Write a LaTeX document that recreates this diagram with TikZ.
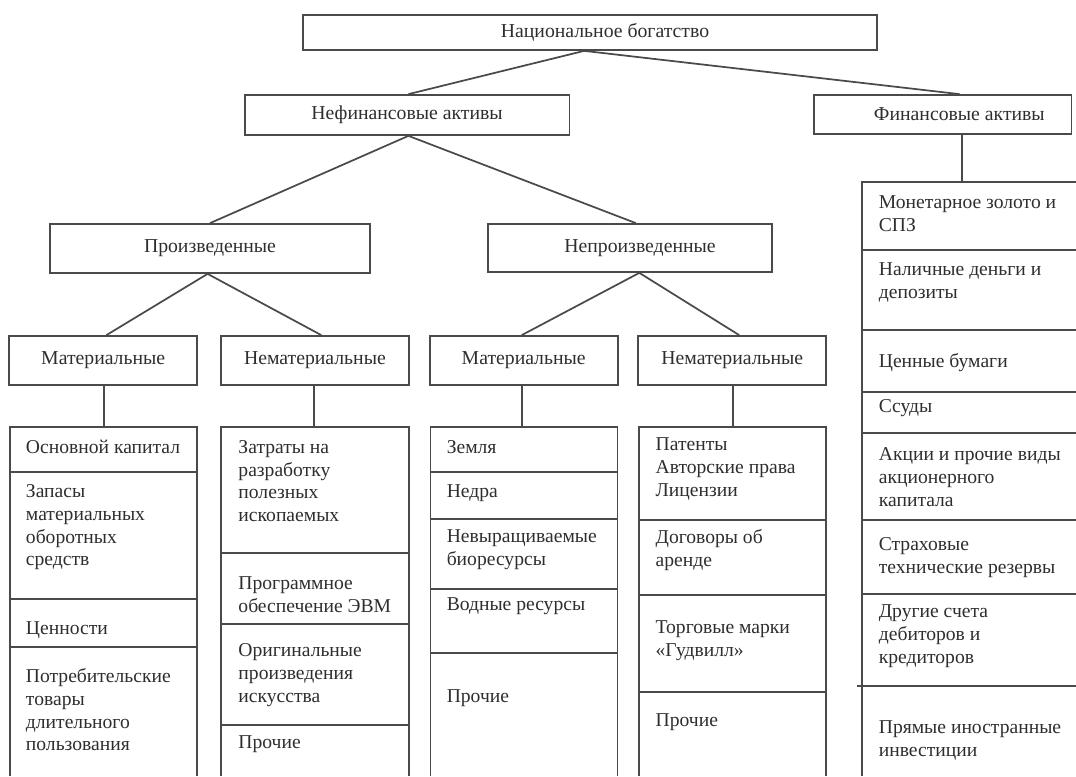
\documentclass[tikz,border=0pt]{standalone}
\usepackage{fontspec}
\setmainfont{Liberation Serif}
\definecolor{ln}{HTML}{4A4A4A}
\definecolor{txt}{HTML}{2E2E2E}

\tikzset{every picture/.style={line width=1.3pt}}
\tikzset{
  box/.style={draw=ln, rectangle, inner sep=0pt, text=txt, font=\fontsize{14.8}{17}\selectfont},
  cell/.style={anchor=west, align=left, inner sep=0pt, text=txt, font=\fontsize{14.7}{17}\selectfont},
}

\begin{document}
\begin{tikzpicture}[x=0.75pt,y=0.75pt,yscale=-1,xscale=1]
\useasboundingbox (0,0) rectangle (1076,776);

% levels
\node [box, minimum width=430.7pt, minimum height=26.25pt] (nat) at (589.8,32.5) {\hspace*{22.8pt}Национальное богатство};
\node [box, minimum width=243.5pt, minimum height=30pt] (nefin) at (407.1,115) {Нефинансовые активы};
\node [box, minimum width=193.2pt, minimum height=29.25pt] (fin) at (942.7,114.5) {\hspace*{25pt}Финансовые активы};
\node [box, minimum width=240.2pt, minimum height=36.75pt] (proizv) at (210,248.5) {Произведенные};
\node [box, minimum width=212.9pt, minimum height=36pt] (neproizv) at (630,248) {\hspace*{15pt}Непроизведенные};
\node [box, minimum width=141pt, minimum height=36.75pt] (matA) at (103.2,360.5) {Материальные};
\node [box, minimum width=141pt, minimum height=36.75pt] (nematB) at (314.9,360.5) {Нематериальные};
\node [box, minimum width=141pt, minimum height=36.75pt] (matC) at (523.7,360.5) {Материальные};
\node [box, minimum width=141pt, minimum height=36.75pt] (nematD) at (732.3,360.5) {Нематериальные};

\coordinate (colA) at (104.3,427);
\coordinate (colB) at (314,427);
\coordinate (colC) at (521.7,427);
\coordinate (colD) at (733.3,427);
\coordinate (colE) at (962,182);

\draw [ln] ([xshift=-4.2pt]nat.south) -- ([xshift=1pt]nefin.north);
\draw [ln] ([xshift=-4.2pt]nat.south) -- ([xshift=12.7pt]fin.north);
\draw [ln] ([xshift=1pt]nefin.south) -- (proizv.north);
\draw [ln] ([xshift=1pt]nefin.south) -- ([xshift=4.4pt]neproizv.north);
\draw [ln] ([xshift=-1.8pt]proizv.south) -- ([xshift=2.4pt]matA.north);
\draw [ln] ([xshift=-1.8pt]proizv.south) -- ([xshift=4.8pt]nematB.north);
\draw [ln] ([xshift=7pt]neproizv.south) -- ([xshift=-1.5pt]matC.north);
\draw [ln] ([xshift=7pt]neproizv.south) -- ([xshift=5.2pt]nematD.north);
\draw [ln] (matA.south -| colA) -- (colA);
\draw [ln] (nematB.south -| colB) -- (colB);
\draw [ln] (matC.south -| colC) -- (colC);
\draw [ln] (nematD.south -| colD) -- (colD);
\draw [ln] (fin.south -| colE) -- (colE);

% columns
\draw [ln] (10.3,776) |- (197.3,427) -- (197.3,776);
\draw [ln] (10.3,472) -- (197.3,472);
\draw [ln] (10.3,599) -- (197.3,599);
\draw [ln] (10.3,647) -- (197.3,647);

\draw [ln] (221,776) |- (409,427) -- (409,776);
\draw [ln] (221,553) -- (409,553);
\draw [ln] (221,624) -- (409,624);
\draw [ln] (221,725) -- (409,725);

\draw [ln] (430.4,776) |- (617.6,427) -- (617.6,776);
\draw [ln] (430.4,472) -- (617.6,472);
\draw [ln] (430.4,519) -- (617.6,519);
\draw [ln] (430.4,589) -- (617.6,589);
\draw [ln] (430.4,653) -- (617.6,653);

\draw [ln] (639.3,776) |- (826.3,427) -- (826.3,776);
\draw [ln] (639.3,520) -- (826.3,520);
\draw [ln] (639.3,595) -- (826.3,595);
\draw [ln] (639.3,692) -- (826.3,692);

\draw [ln] (1076,182) -| (862,776);
\draw [ln] (862,250) -- (1076,250);
\draw [ln] (862,330) -- (1076,330);
\draw [ln] (862,392) -- (1076,392);
\draw [ln] (862,433) -- (1076,433);
\draw [ln] (862,520) -- (1076,520);
\draw [ln] (862,594) -- (1076,594);
\draw [ln] (857.3,686) -- (1076,686);

% texts
\node [cell] (a1) at (25.1,447) {Основной капитал};
\node [cell] (a2) at (25.1,527.5) {Запасы\\материальных\\оборотных\\средств};
\node [cell] (a3) at (25.1,630) {Ценности};
\node [cell] (a4) at (25.1,710) {Потребительские\\товары\\длительного\\пользования};

\node [cell] (b1) at (237.6,481) {Затраты на\\разработку\\полезных\\ископаемых};
\node [cell] (b2) at (237.6,595) {Программное\\обеспечение ЭВМ};
\node [cell] (b3) at (237.6,675) {Оригинальные\\произведения\\искусства};
\node [cell] (b4) at (237.6,744) {Прочие};

\node [cell] (c1) at (445.9,447) {Земля};
\node [cell] (c2) at (445.9,493) {Недра};
\node [cell] (c3) at (445.9,550) {Невыращиваемые\\биоресурсы};
\node [cell] (c4) at (445.9,606) {Водные ресурсы};
\node [cell] (c5) at (445.9,698) {Прочие};

\node [cell] (d1) at (654.8,469) {Патенты\\Авторские права\\Лицензии};
\node [cell] (d2) at (654.8,550) {Договоры об\\аренде};
\node [cell] (d3) at (654.8,641) {Торговые марки\\«Гудвилл»};
\node [cell] (d4) at (654.8,722) {Прочие};

\node [cell] (e1) at (878,213.5) {Монетарное золото и\\СПЗ};
\node [cell] (e2) at (878,282.5) {Наличные деньги и\\депозиты};
\node [cell] (e3) at (878,363) {Ценные бумаги};
\node [cell] (e4) at (878,408) {Ссуды};
\node [cell] (e5) at (878,477) {Акции и прочие виды\\акционерного\\капитала};
\node [cell] (e6) at (878,557.5) {Страховые\\технические резервы};
\node [cell] (e7) at (878,636) {Другие счета\\дебиторов и\\кредиторов};
\node [cell] (e8) at (878,740.5) {Прямые иностранные\\инвестиции};

\end{tikzpicture}
\end{document}
